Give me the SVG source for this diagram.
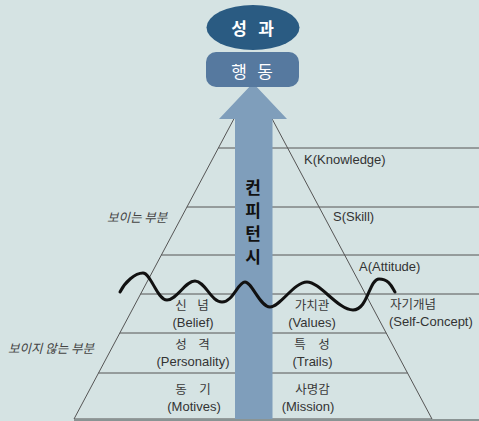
<svg xmlns="http://www.w3.org/2000/svg" width="479" height="421" viewBox="0 0 479 421">
<style>
.ln{stroke:#555;stroke-width:1;fill:none}
.lbl{font-family:"Liberation Sans","Noto Sans CJK KR",sans-serif;font-size:13px;fill:#333}
.kr{font-family:"Noto Sans CJK KR","Liberation Sans",sans-serif;font-size:12.5px;fill:#3a3a3a}
.side{font-family:"Noto Sans CJK KR","Liberation Sans",sans-serif;font-size:12.5px;fill:#444;font-style:italic}
.mid{text-anchor:middle}
.head{font-family:"Noto Sans CJK KR",sans-serif;font-size:17px;fill:#fff;font-weight:bold;text-anchor:middle}
.vt{font-family:"Noto Sans CJK KR",sans-serif;font-size:17px;fill:#111;font-weight:bold;text-anchor:middle}
</style>
<rect width="479" height="421" fill="#d5e3e3"/>
<g id="pyramid">
<polygon points="253,83 74,419 432,419" fill="#c2d0ce" class="ln"/>
<line class="ln" x1="218.4" y1="148" x2="479" y2="148"/>
<line class="ln" x1="186.9" y1="207" x2="479" y2="207"/>
<line class="ln" x1="161.3" y1="255" x2="479" y2="255"/>
<line class="ln" x1="140.5" y1="294" x2="479" y2="294"/>
<line class="ln" x1="119.8" y1="333" x2="386.2" y2="333"/>
<line class="ln" x1="98.4" y1="373" x2="407.5" y2="373"/>
<rect x="74" y="419" width="405" height="2" fill="#8a9494"/>
</g>
<g id="connectors">
<polygon id="arrow" points="253,83 287,119 272.5,119 272.5,419 235,419 235,119 219,119" fill="#7f9ebb"/>
</g>
<g id="competency">
<text class="vt" x="253" y="194">컨</text>
<text class="vt" x="253" y="217">피</text>
<text class="vt" x="253" y="240">턴</text>
<text class="vt" x="253" y="263">시</text>
</g>
<g id="outcome">
<ellipse cx="253" cy="27.5" rx="46.5" ry="22.5" fill="#2a5b82"/>
<text class="head" x="239 266" y="35">성과</text>
</g>
<g id="behavior">
<rect x="206" y="52" width="93" height="35" rx="10" fill="#56799f"/>
<text class="head" x="239 265" y="78" style="font-weight:normal">행동</text>
</g>
<g id="labels-right">
<text class="lbl" x="304" y="164">K(Knowledge)</text>
<text class="lbl" x="333" y="221">S(Skill)</text>
<text class="lbl" x="359" y="271">A(Attitude)</text>
<text class="kr" x="390" y="309">자기개념</text>
<text class="lbl" x="389" y="326">(Self-Concept)</text>
</g>
<g id="labels-left-col">
<text class="kr mid" x="181 203" y="310">신념</text>
<text class="lbl mid" x="193" y="327">(Belief)</text>
<text class="kr mid" x="181 204" y="349">성격</text>
<text class="lbl mid" x="193" y="366">(Personality)</text>
<text class="kr mid" x="181 205" y="394">동기</text>
<text class="lbl mid" x="194" y="411">(Motives)</text>
</g>
<g id="labels-right-col">
<text class="kr mid" x="312" y="310">가치관</text>
<text class="lbl mid" x="312" y="327">(Values)</text>
<text class="kr mid" x="300 324" y="349">특성</text>
<text class="lbl mid" x="312.5" y="366">(Trails)</text>
<text class="kr mid" x="312.5" y="394">사명감</text>
<text class="lbl mid" x="308" y="411">(Mission)</text>
</g>
<g id="side-labels">
<text class="side" x="107" y="222">보이는 부분</text>
<text class="side" x="8" y="353">보이지 않는 부분</text>
</g>
<g id="wave">
<path d="M120,292 C125,282 135,273 143,273 S157,300 167,300 S185,281 195,281 S211,302 222,302 S238,282 245,282 S260,307 270,307 S294,282 307,282 S338,310 353,310 S369,279 379,279 S392,287 395,292" fill="none" stroke="#111" stroke-width="3" stroke-linecap="round"/>
</g>
</svg>
